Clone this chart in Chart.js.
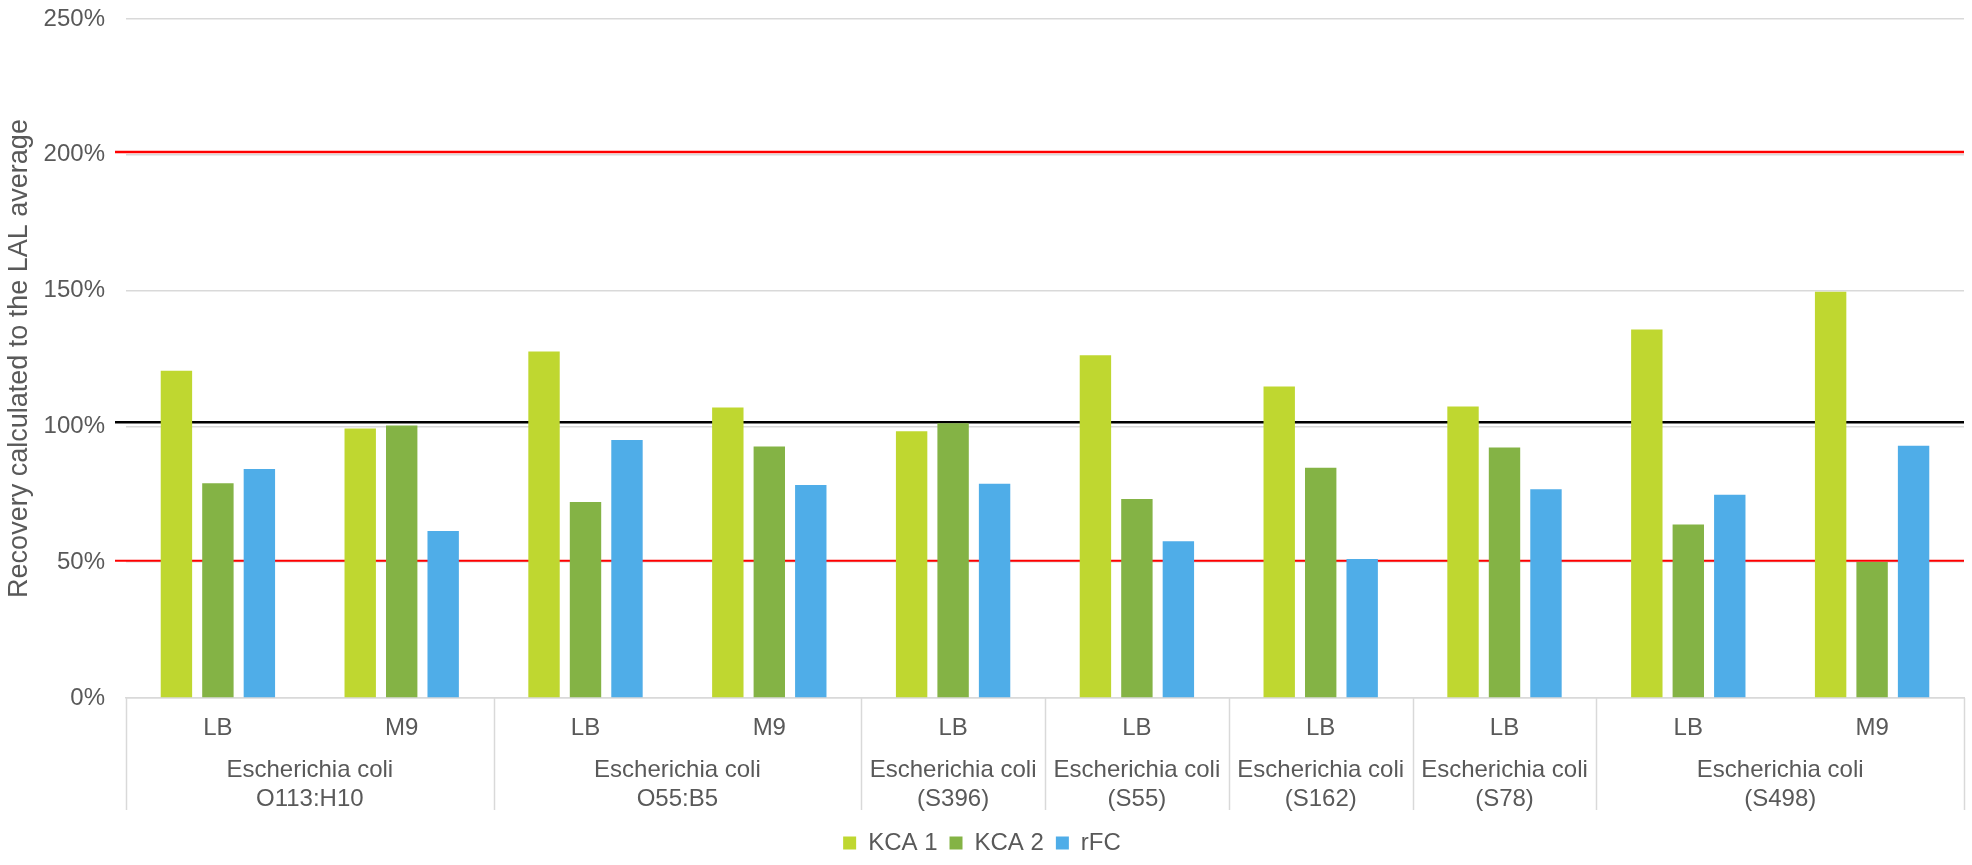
<!DOCTYPE HTML><html><head>
<meta name="viewport" content="width=device-width, initial-scale=1">
<style>
    html, body {
      margin: 0px;
      padding: 0px;
      background: #ffffff;
      font-family: "Liberation Sans", Arial;
    }
    #wrap {
      width: 1972px;
      height: 865px;
      position: relative;
    }
</style>
</head>
<body>

<div id="wrap"><canvas id="myChart"></canvas></div>

<script src="https://cdn.jsdelivr.net/npm/chart.js@4.4.1/dist/chart.umd.min.js"></script>
<script>
// media per bar group (bottom row of x axis)
var media = ['LB', 'M9', 'LB', 'M9', 'LB', 'LB', 'LB', 'LB', 'LB', 'M9'];

// strains (second row), each covers 'span' media
var strainNames = [
    ['Escherichia coli', 'O113:H10'],
    ['Escherichia coli', 'O55:B5'],
    ['Escherichia coli', '(S396)'],
    ['Escherichia coli', '(S55)'],
    ['Escherichia coli', '(S162)'],
    ['Escherichia coli', '(S78)'],
    ['Escherichia coli', '(S498)']
];
var strainSpans = [2, 2, 1, 1, 1, 1, 2];

// recovery in % of LAL average
var kca1 = [120.5, 99.2, 127.6, 107.0, 98.2, 126.2, 114.7, 107.3, 135.7, 149.6];
var kca2 = [79.1, 100.3, 72.2, 92.6, 101.2, 73.3, 84.8, 92.2, 63.9, 50.1];
var rfc  = [84.3, 61.5, 95.0, 78.4, 78.9, 57.7, 51.2, 76.9, 74.8, 92.9];

// limit lines (%)
var limitValues = [201, 101.5, 50.5];
var limitColors = ['#ff0000', '#000000', '#ff0000'];
var limitWidths = [2.5, 2.5, 2];

var yTicks = [0, 50, 100, 150, 200, 250];

var textColor = '#595959';
var gridColor = '#d9d9d9';
var fontFam = '"Liberation Sans", Arial, sans-serif';

// horizontal limit lines, behind the bars
var limitLines = {
    id: 'limitLines',
    beforeDatasetsDraw: function(chart) {
        var ctx = chart.ctx;
        var ys = chart.scales.y;
        var area = chart.chartArea;
        ctx.save();
        for (var i = 0; i < limitValues.length; i++) {
            var py = ys.getPixelForValue(limitValues[i]);
            ctx.strokeStyle = limitColors[i];
            ctx.lineWidth = limitWidths[i];
            ctx.beginPath();
            ctx.moveTo(area.left - 11, py);
            ctx.lineTo(area.right, py);
            ctx.stroke();
        }
        ctx.restore();
    }
};

// draws the strain row + the divider lines of the category table
var strainAxis = {
    id: 'strainAxis',
    afterDraw: function(chart) {
        var ctx = chart.ctx;
        var xs = chart.scales.x;
        var top = xs.top;
        var start = 0;
        ctx.save();
        ctx.strokeStyle = gridColor;
        ctx.lineWidth = 1.5;
        ctx.fillStyle = textColor;
        ctx.font = '24px ' + fontFam;
        ctx.textAlign = 'center';
        ctx.textBaseline = 'middle';
        for (var i = 0; i <= strainSpans.length; i++) {
            var px = Math.round(xs.getPixelForValue(start - 0.5)) + 0.5;
            ctx.beginPath();
            ctx.moveTo(px, top);
            ctx.lineTo(px, top + 112);
            ctx.stroke();
            if (i < strainSpans.length) {
                var cx = xs.getPixelForValue(start + (strainSpans[i] - 1) / 2);
                ctx.fillText(strainNames[i][0], cx, top + 72);
                ctx.fillText(strainNames[i][1], cx, top + 101);
                start += strainSpans[i];
            }
        }
        ctx.restore();
    }
};

var ctx = document.getElementById('myChart');
var myChart = new Chart(ctx, {
    type: 'bar',
    data: {
        labels: media,
        datasets: [
            { label: 'KCA 1', data: kca1, backgroundColor: '#bfd730' },
            { label: 'KCA 2', data: kca2, backgroundColor: '#84b345' },
            { label: 'rFC', data: rfc, backgroundColor: '#4fade8' }
        ]
    },
    options: {
        responsive: true,
        maintainAspectRatio: false,
        animation: false,
        categoryPercentage: 0.677,
        barPercentage: 0.757,
        layout: { padding: { top: 19, right: 8, left: 0, bottom: 0 } },
        plugins: {
            tooltip: { enabled: false },
            legend: {
                position: 'bottom',
                labels: {
                    boxWidth: 13,
                    boxHeight: 13,
                    color: textColor,
                    font: { size: 24, family: fontFam },
                    padding: 12
                }
            }
        },
        scales: {
            x: {
                grid: { display: false },
                border: { display: true, color: gridColor, width: 1.5 },
                ticks: { color: textColor, font: { size: 24, family: fontFam }, padding: 8 },
                afterFit: function(s) { s.height = 121; s.paddingTop = 0; }
            },
            y: {
                min: 0,
                max: 250,
                afterBuildTicks: function(s) { s.ticks = yTicks.map(function(v) { return {value: v}; }); },
                grid: { color: gridColor, lineWidth: 1.5, drawTicks: false },
                border: { display: false },
                ticks: {
                    color: textColor,
                    font: { size: 24, family: fontFam },
                    padding: 21,
                    callback: function(v) { return v + '%'; }
                },
                title: {
                    display: true,
                    text: 'Recovery calculated to the LAL average',
                    color: textColor,
                    font: { size: 27, family: fontFam },
                    padding: { top: 3, bottom: 0 }
                },
                afterFit: function(s) { s.width = 126; s.paddingTop = 0; s.paddingBottom = 0; }
            }
        }
    },
    plugins: [limitLines, strainAxis]
});
</script>

</body></html>
